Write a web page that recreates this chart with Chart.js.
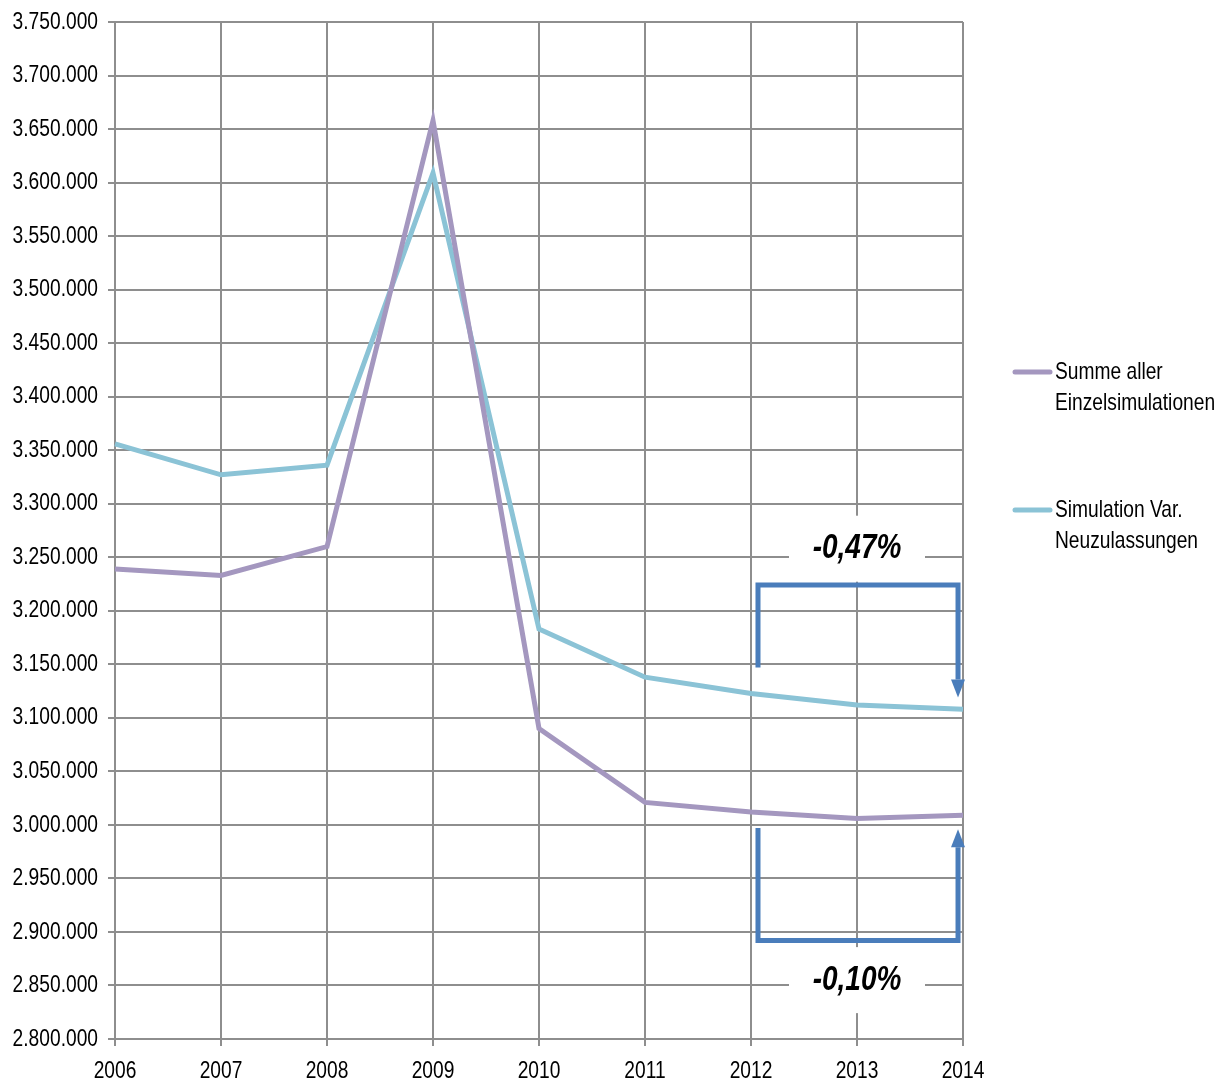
<!DOCTYPE html>
<html>
<head>
<meta charset="utf-8">
<script src="https://cdn.jsdelivr.net/npm/chart.js@4/dist/chart.umd.min.js"></script>
<style>
  html, body { margin: 0; padding: 0; background: #ffffff; }
  #wrap { width: 1227px; height: 1083px; }
</style>
</head>
<body>
<div id="wrap"><canvas id="c" width="1227" height="1083"></canvas></div>
<script>
// Jahre auf der x-Achse
const years = ['2006', '2007', '2008', '2009', '2010', '2011', '2012', '2013', '2014'];

// Summe aller Einzelsimulationen
const summeAller = [3239000, 3233000, 3260000, 3658000, 3090000, 3021000, 3012000, 3006000, 3009000];

// Simulation Var. Neuzulassungen
const simNeuzulassungen = [3356000, 3327000, 3336000, 3609000, 3183000, 3138000, 3122700, 3112000, 3108000];

// Legendentexte (zweizeilig)
const seriesLabels = [
  ['Summe aller', 'Einzelsimulationen'],
  ['Simulation Var.', 'Neuzulassungen']
];

// y-Achse
const yMin = 2800000;
const yMax = 3750000;
const yStep = 50000;

const FONT = '"Liberation Sans", Arial, sans-serif';
const NARROW = 0.8;          // horizontale Stauchung -> schmale Schrift
const GRID = '#8e8e8e';
const ARROW = '#4a7dbb';

function formatDe(v) {
  return String(Math.round(v)).replace(/\B(?=(\d{3})+(?!\d))/g, '.');
}

function pctChange(arr, from, to) {
  const p = (arr[to] - arr[from]) / arr[from] * 100;
  return p.toFixed(2).replace('.', ',') + '%';
}

// Text horizontal gestaucht um seinen Ankerpunkt zeichnen
function narrowFill(ctx, fill, text, x, y, sx) {
  ctx.save();
  ctx.translate(x, y);
  ctx.scale(sx, 1);
  fill.call(ctx, text, 0, 0);
  ctx.restore();
}

// Achsenbeschriftungen in schmaler Schrift
const narrowTicks = {
  id: 'narrowTicks',
  afterLayout(chart) {
    Object.values(chart.scales).forEach(scale => {
      if (scale._narrowPatched) return;
      const orig = scale.drawLabels;
      scale.drawLabels = function (area) {
        const ctx = this.ctx;
        const fill = ctx.fillText;
        ctx.fillText = function (t, x, y) { narrowFill(this, fill, t, x, y, NARROW); };
        try { orig.call(this, area); } finally { ctx.fillText = fill; }
      };
      scale._narrowPatched = true;
    });
  }
};

// Veränderung 2012 -> 2014 als Klammerpfeile
const iFrom = years.indexOf('2012');
const iTo = years.indexOf('2014');
const brackets = [
  { // oben: Simulation Var. Neuzulassungen
    data: simNeuzulassungen, xl: iFrom + 0.066, xr: iTo - 0.047,
    yBar: 3224000, yLeftEnd: 3147000, yTip: 3119000, labelY: 3258000
  },
  { // unten: Summe aller Einzelsimulationen
    data: summeAller, xl: iFrom + 0.066, xr: iTo - 0.047,
    yBar: 2892000, yLeftEnd: 2997000, yTip: 2996000, labelY: 2855000
  }
];

const bracketPlugin = {
  id: 'brackets',
  afterDatasetsDraw(chart) {
    const ctx = chart.ctx;
    const xs = chart.scales.x, ys = chart.scales.y;
    ctx.save();
    brackets.forEach(b => {
      const xl = xs.getPixelForValue(b.xl);
      const xr = xs.getPixelForValue(b.xr);
      const yb = ys.getPixelForValue(b.yBar);
      const yl = ys.getPixelForValue(b.yLeftEnd);
      const yt = ys.getPixelForValue(b.yTip);
      const dir = yt > yb ? 1 : -1;
      const headLen = 18, headHalf = 7;
      const yBase = yt - dir * headLen;
      ctx.strokeStyle = ARROW;
      ctx.fillStyle = ARROW;
      ctx.lineWidth = 5;
      ctx.lineJoin = 'miter';
      ctx.lineCap = 'butt';
      ctx.beginPath();
      ctx.moveTo(xl, yl);
      ctx.lineTo(xl, yb);
      ctx.lineTo(xr, yb);
      ctx.lineTo(xr, yBase);
      ctx.stroke();
      ctx.beginPath();
      ctx.moveTo(xr - headHalf, yBase);
      ctx.lineTo(xr + headHalf, yBase);
      ctx.lineTo(xr, yt);
      ctx.closePath();
      ctx.fill();

      // Prozentangabe mit weißem Hintergrund
      const text = pctChange(b.data, iFrom, iTo);
      const cx = xs.getPixelForValue((iFrom + iTo) / 2);
      const cy = ys.getPixelForValue(b.labelY);
      ctx.fillStyle = '#ffffff';
      ctx.fillRect(cx - 68, cy - 33, 136, 66);
      ctx.fillStyle = '#000000';
      ctx.font = 'italic bold 35px ' + FONT;
      ctx.textAlign = 'center';
      ctx.textBaseline = 'middle';
      narrowFill(ctx, ctx.fillText, text, cx, cy, 0.8);
    });
    ctx.restore();
  }
};

const legendPlugin = {
  id: 'sideLegend',
  afterDraw(chart) {
    const ctx = chart.ctx;
    const tops = [372, 510];
    ctx.save();
    chart.data.datasets.forEach((ds, i) => {
      const y = tops[i];
      ctx.strokeStyle = ds.borderColor;
      ctx.lineWidth = 5;
      ctx.lineCap = 'round';
      ctx.beginPath();
      ctx.moveTo(1015, y);
      ctx.lineTo(1050, y);
      ctx.stroke();
      ctx.fillStyle = '#000000';
      ctx.font = '24px ' + FONT;
      ctx.textAlign = 'left';
      ctx.textBaseline = 'middle';
      seriesLabels[i].forEach((line, k) => narrowFill(ctx, ctx.fillText, line, 1055, y + k * 31, NARROW));
    });
    ctx.restore();
  }
};

new Chart(document.getElementById('c'), {
  type: 'line',
  data: {
    labels: years,
    datasets: [
      {
        label: seriesLabels[0].join(' '),
        data: summeAller,
        borderColor: '#a497bf',
        borderWidth: 5,
        pointRadius: 0,
        tension: 0,
        fill: false
      },
      {
        label: seriesLabels[1].join(' '),
        data: simNeuzulassungen,
        borderColor: '#8bc3d6',
        borderWidth: 5,
        pointRadius: 0,
        tension: 0,
        fill: false
      }
    ]
  },
  options: {
    responsive: false,
    animation: false,
    devicePixelRatio: 1,
    layout: { padding: { top: 21, right: 264, bottom: 0, left: 0 } },
    plugins: {
      legend: { display: false },
      tooltip: { enabled: false }
    },
    scales: {
      x: {
        offset: false,
        grid: { color: GRID, lineWidth: 2, tickLength: 7 },
        border: { color: GRID, width: 2 },
        ticks: {
          color: '#000000',
          font: { family: FONT, size: 24, lineHeight: 1 },
          padding: 13,
          maxRotation: 0,
          autoSkip: false
        },
        afterFit(scale) { scale.height = 44; }
      },
      y: {
        min: yMin,
        max: yMax,
        grid: { color: GRID, lineWidth: 2, tickLength: 7 },
        border: { color: GRID, width: 2 },
        ticks: {
          stepSize: yStep,
          color: '#000000',
          font: { family: FONT, size: 24, lineHeight: 1 },
          padding: 10,
          callback: v => formatDe(v)
        },
        afterFit(scale) { scale.width = 115; }
      }
    }
  },
  plugins: [narrowTicks, bracketPlugin, legendPlugin]
});
</script>
</body>
</html>
